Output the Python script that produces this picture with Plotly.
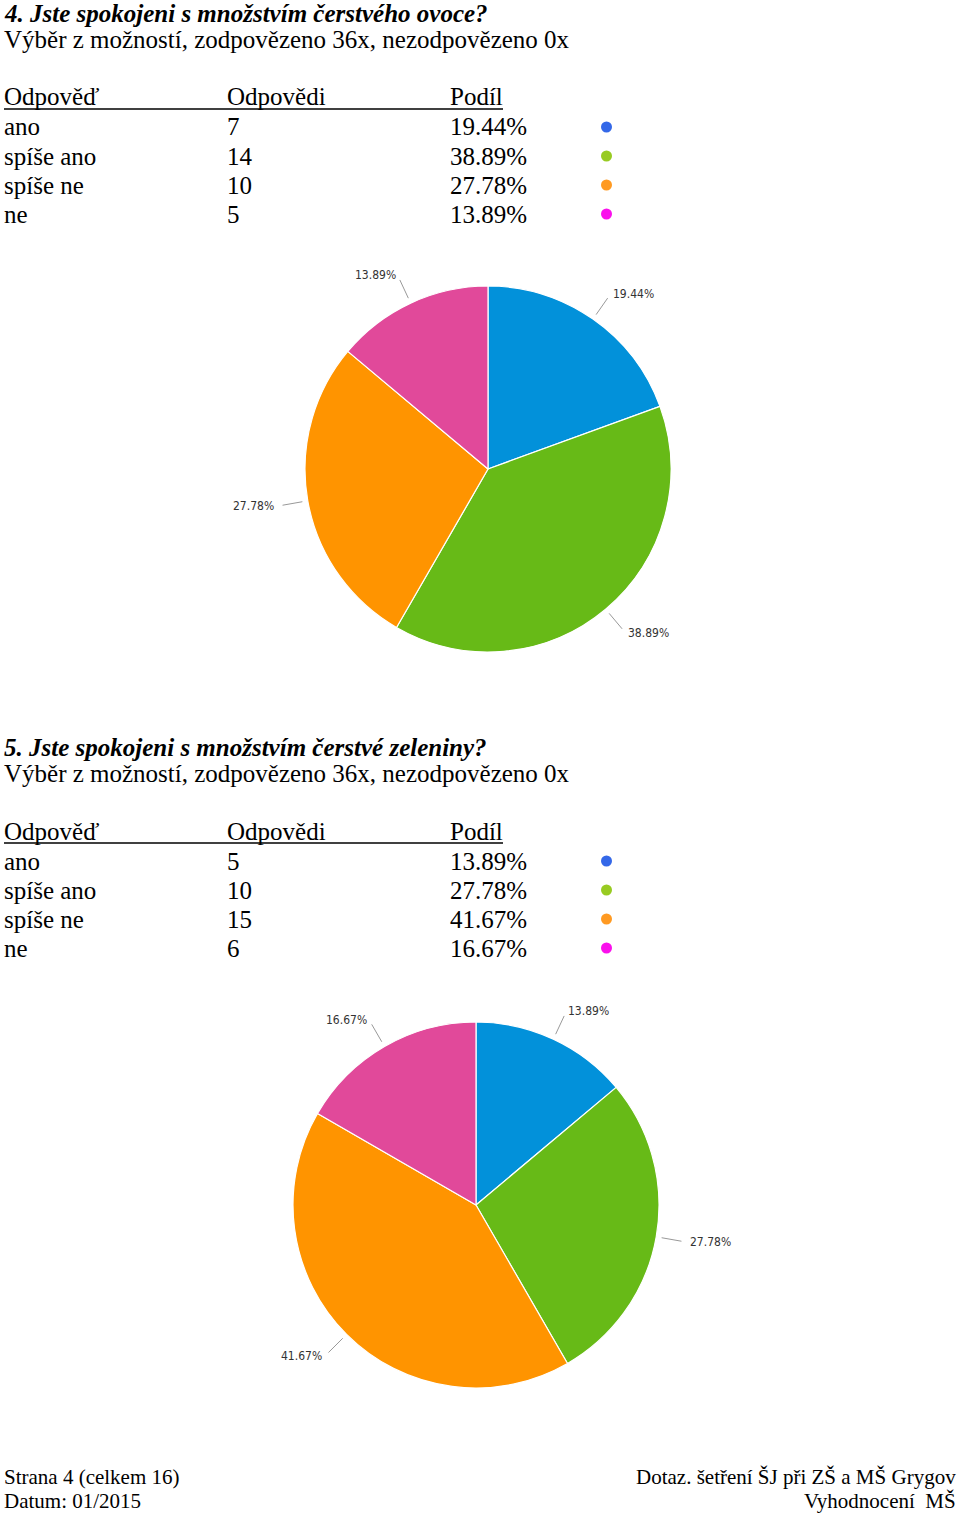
import math
import plotly.graph_objects as go

W, H = 960, 1513

# ---- data ----
answers = ["ano", "spíše ano", "spíše ne", "ne"]
q4_title = "4. Jste spokojeni s množstvím čerstvého ovoce?"
q4_counts = [7, 14, 10, 5]
q4_shares = ["19.44%", "38.89%", "27.78%", "13.89%"]
q5_title = "5. Jste spokojeni s množstvím čerstvé zeleniny?"
q5_counts = [5, 10, 15, 6]
q5_shares = ["13.89%", "27.78%", "41.67%", "16.67%"]
subtitle = "Výběr z možností, zodpovězeno 36x, nezodpovězeno 0x"
headers = ["Odpověď", "Odpovědi", "Podíl"]
footer_left = ["Strana 4 (celkem 16)", "Datum: 01/2015"]
footer_right = ["Dotaz. šetření ŠJ při ZŠ a MŠ Grygov", "Vyhodnocení  MŠ"]

pie_colors = ["#0291DA", "#67BA17", "#FF9400", "#E1499A"]
dot_colors = ["#3468E8", "#98CB22", "#FF9A22", "#FA10EC"]

SERIF = "Liberation Serif"

fig = go.Figure()
annotations = []
shapes = []


def px(x):
    return x / W


def py(y):
    return 1 - y / H


def text(x, y, s, size=25, anchor="left", font=SERIF, color="#000", bold=False, italic=False):
    if bold:
        s = "<b>" + s + "</b>"
    if italic:
        s = "<i>" + s + "</i>"
    annotations.append(dict(
        x=px(x), y=py(y), xref="paper", yref="paper", text=s, showarrow=False,
        xanchor=anchor, yanchor="middle", borderpad=0, borderwidth=0,
        font=dict(family=font, size=size, color=color)))


def block(top, title, counts, shares):
    text(4, top + 13, title, bold=True, italic=True)
    text(4, top + 40, subtitle)
    col_x = [4, 227, 450]
    for cx, h in zip(col_x, headers):
        text(cx, top + 97, h)
    shapes.append(dict(type="line", xref="paper", yref="paper",
                       x0=px(4), x1=px(503), y0=py(top + 109), y1=py(top + 109),
                       line=dict(color="#000", width=1.3)))
    for i, (a, c, s) in enumerate(zip(answers, counts, shares)):
        y = top + 127 + 29 * i
        text(col_x[0], y, a)
        text(col_x[1], y, str(c))
        text(col_x[2], y, s)
        shapes.append(dict(type="circle", xref="paper", yref="paper",
                           x0=px(601), x1=px(612), y0=py(y - 5.5), y1=py(y + 5.5),
                           fillcolor=dot_colors[i], line=dict(width=0)))


def pie(cx, cy, R, counts, shares):
    fig.add_trace(go.Pie(
        values=counts, labels=answers, sort=False, direction="clockwise", rotation=0,
        marker=dict(colors=pie_colors, line=dict(color="#ffffff", width=1.2)),
        textinfo="none", hoverinfo="label+value+percent", showlegend=False,
        domain=dict(x=[px(cx - R), px(cx + R)], y=[py(cy + R), py(cy - R)])))
    total = sum(counts)
    cum = 0
    for c, s in zip(counts, shares):
        mid = (cum + c / 2) / total * 2 * math.pi
        cum += c
        sx, sy = math.sin(mid), -math.cos(mid)
        x0, y0 = cx + sx * R * 1.03, cy + sy * R * 1.03
        x1, y1 = cx + sx * R * 1.14, cy + sy * R * 1.14
        shapes.append(dict(type="line", xref="paper", yref="paper",
                           x0=px(x0), y0=py(y0), x1=px(x1), y1=py(y1),
                           line=dict(color="#999999", width=1)))
        tx, ty = cx + sx * R * 1.19, cy + sy * R * 1.17
        text(tx, ty, s, size=12, anchor="left" if sx >= 0 else "right",
             font="DejaVu Sans Condensed, DejaVu Sans", color="#333333")


block(0, q4_title, q4_counts, q4_shares)
pie(488, 469, 183, q4_counts, q4_shares)
block(734, q5_title, q5_counts, q5_shares)
pie(476, 1205, 183, q5_counts, q5_shares)

for i, s in enumerate(footer_left):
    text(4, 1477 + 24 * i, s, size=21)
for i, s in enumerate(footer_right):
    text(956, 1477 + 24 * i, s, size=21, anchor="right")

fig.update_layout(
    width=W, height=H, margin=dict(l=0, r=0, t=0, b=0),
    paper_bgcolor="#ffffff", plot_bgcolor="#ffffff",
    annotations=annotations, shapes=shapes, showlegend=False)

fig.write_html("out.html")
